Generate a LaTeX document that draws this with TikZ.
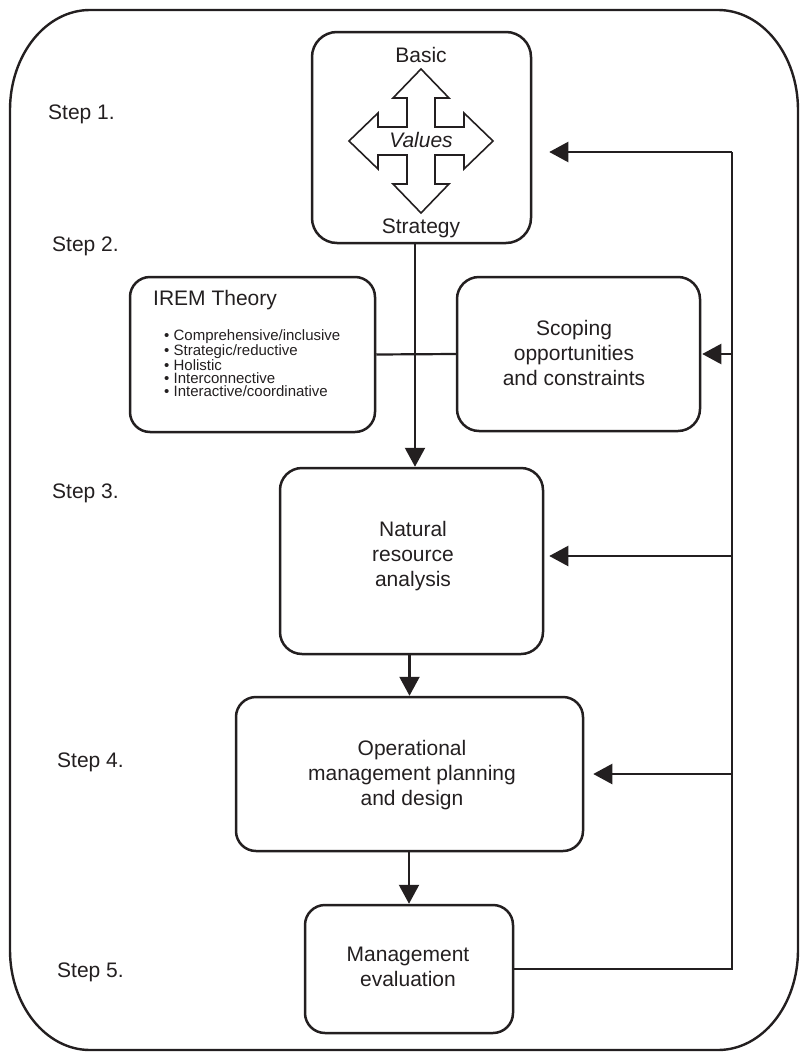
\documentclass[tikz,border=0pt]{standalone}
\usepackage{fontspec}
\setmainfont{Liberation Sans}
\usetikzlibrary{arrows.meta}

\definecolor{ink}{RGB}{35,31,32}

\tikzset{
  box/.style={draw=ink, line width=2.5pt, rounded corners=22pt, inner sep=0pt},
  con/.style={draw=ink, line width=2.2pt},
  arr/.style={con, -{Triangle[length=19pt,width=20pt]}},
  txt/.style={text=ink, font=\fontsize{21}{25}\selectfont, align=center, inner sep=0pt},
  steplabel/.style={text=ink, font=\fontsize{21}{25}\selectfont, anchor=base west, inner sep=0pt},
  cross/.style={draw=ink, line width=1.6pt, line join=miter},
}

\begin{document}
\begin{tikzpicture}[x=1pt,y=-1pt]
\useasboundingbox (0,0) rectangle (801,1055);

% outer frame with elliptical corners
\draw[ink, line width=2.4pt]
  (10,110) .. controls (10,54.8) and (45.8,10) .. (90,10)
  -- (718,10) .. controls (762.2,10) and (798,54.8) .. (798,110)
  -- (798,950) .. controls (798,1005.2) and (762.2,1050) .. (718,1050)
  -- (90,1050) .. controls (45.8,1050) and (10,1005.2) .. (10,950)
  -- cycle;

% step labels
\node[steplabel] (s1) at (48,119) {Step 1.};
\node[steplabel] (s2) at (52,251) {Step 2.};
\node[steplabel] (s3) at (52,498) {Step 3.};
\node[steplabel] (s4) at (57,767) {Step 4.};
\node[steplabel] (s5) at (57,977) {Step 5.};

% boxes
\node[box, minimum width=219pt, minimum height=211pt, rounded corners=25pt] (top) at (421.5,137.5) {};
\node[box, minimum width=245pt, minimum height=155pt, rounded corners=20pt] (irem) at (252.5,354.5) {};
\node[box, minimum width=243pt, minimum height=154pt] (scope) at (578.5,354) {};
\node[box, minimum width=263pt, minimum height=186pt] (nat) at (411.5,561) {};
\node[box, minimum width=347pt, minimum height=154pt, rounded corners=20pt] (op) at (409.5,774) {};
\node[box, minimum width=208pt, minimum height=128pt, rounded corners=20pt] (mgmt) at (409,969) {};

% four-way arrow of the values box
\draw[cross] (421,141) ++(0,-72) -- ++(28,29) -- ++(-14,0) -- ++(0,29) -- ++(29,0)
  -- ++(0,-14) -- ++(29,28) -- ++(-29,28) -- ++(0,-14) -- ++(-29,0) -- ++(0,29)
  -- ++(14,0) -- ++(-28,29) -- ++(-28,-29) -- ++(14,0) -- ++(0,-29) -- ++(-29,0)
  -- ++(0,14) -- ++(-29,-28) -- ++(29,-28) -- ++(0,14) -- ++(29,0) -- ++(0,-29)
  -- ++(-14,0) -- cycle;

% texts
\node[txt, anchor=base] (tBasic) at (421,62) {Basic};
\node[txt, anchor=base] (tValues) at (421,147) {\itshape Values};
\node[txt, anchor=base] (tStrategy) at (421,233) {Strategy};

\node[txt, anchor=base west] (tIrem) at (153,305) {IREM Theory};
\node[text=ink, font=\fontsize{15}{13.3}\selectfont, align=left, anchor=north west, inner sep=0pt]
  (tList) at (164,329) {\textbullet\ Comprehensive/inclusive\\
  \textbullet\ Strategic/reductive\\
  \textbullet\ Holistic\\
  \textbullet\ Interconnective\\
  \textbullet\ Interactive/coordinative};

\node[txt] (tScope) at (574,353) {Scoping\\opportunities\\and constraints};
\node[txt] (tNat) at (413,556) {Natural\\resource\\analysis};
\node[txt] (tOp) at (412,775) {Operational\\management planning\\and design};
\node[txt] (tMgmt) at (408,966.5) {Management\\evaluation};

% main flow
\coordinate (spine) at (415,0);
\draw[arr] (top.south -| spine) -- (nat.north -| spine);
\draw[con] (irem.east) -- (scope.west);
\draw[arr] (op.north |- nat.south) -- (op.north);
\draw[arr] (mgmt.north |- op.south) -- (mgmt.north);

% feedback loop
\coordinate (fbtop) at (732,152);
\coordinate (natIn) at ([yshift=5pt]nat.east);
\draw[con, line join=miter] (mgmt.east) -| (fbtop);
\draw[arr, shorten >=17pt] (fbtop) -- (fbtop -| top.east);
\draw[arr, shorten >=1pt] (fbtop |- scope.east) -- (scope.east);
\draw[arr, shorten >=5pt] (fbtop |- natIn) -- (natIn);
\draw[arr, shorten >=9pt] (fbtop |- op.east) -- (op.east);
\end{tikzpicture}
\end{document}
